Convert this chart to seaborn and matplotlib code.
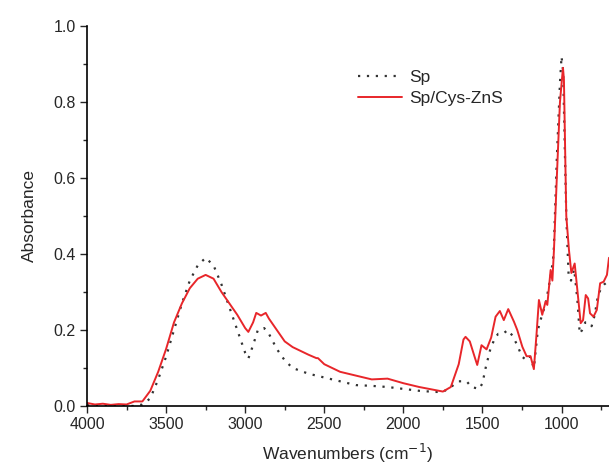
import numpy as np
import pandas as pd
import matplotlib
matplotlib.use("Agg")
import matplotlib.pyplot as plt
from matplotlib.ticker import MultipleLocator
import seaborn as sns

# Sp (plain) spectrum
sp_wn = [4000, 3900, 3800, 3700, 3650, 3600, 3550, 3500, 3450, 3400, 3350, 3300,
         3250, 3200, 3150, 3100, 3050, 3000, 2980, 2950, 2920, 2880, 2850, 2800,
         2750, 2700, 2600, 2500, 2400, 2300, 2200, 2100, 2000, 1900, 1800, 1750,
         1700, 1650, 1600, 1570, 1520, 1500, 1480, 1450, 1420, 1400, 1370, 1340,
         1310, 1280, 1250, 1220, 1200, 1175, 1150, 1130, 1100, 1065, 1050, 1030,
         1010, 1000, 990, 970, 955, 940, 920, 900, 885, 870, 850, 830, 810, 790,
         770, 750, 730, 700]
sp_abs = [0.002, 0.0, 0.001, 0.0, 0.004, 0.02, 0.07, 0.13, 0.2, 0.27, 0.33, 0.37,
          0.39, 0.37, 0.32, 0.26, 0.2, 0.14, 0.125, 0.16, 0.2, 0.205, 0.19, 0.15,
          0.12, 0.1, 0.085, 0.075, 0.065, 0.055, 0.053, 0.05, 0.045, 0.04, 0.037, 0.037,
          0.05, 0.065, 0.065, 0.05, 0.045, 0.06, 0.1, 0.15, 0.18, 0.19, 0.19, 0.2,
          0.185, 0.16, 0.13, 0.12, 0.13, 0.1, 0.2, 0.23, 0.27, 0.35, 0.4, 0.65,
          0.85, 0.92, 0.88, 0.5, 0.34, 0.33, 0.36, 0.28, 0.19, 0.2, 0.22, 0.22, 0.21, 0.24,
          0.29, 0.31, 0.32, 0.33]

# Sp/Cys-ZnS spectrum
zn_wn = [4000, 3950, 3900, 3850, 3800, 3750, 3700, 3650, 3600, 3550, 3500, 3450,
         3400, 3350, 3300, 3250, 3200, 3150, 3100, 3050, 3000, 2980, 2950, 2930,
         2900, 2870, 2850, 2800, 2750, 2700, 2600, 2550, 2540, 2500, 2400, 2300,
         2200, 2100, 2000, 1900, 1800, 1750, 1700, 1650, 1620, 1607, 1580, 1550,
         1533, 1506, 1474, 1445, 1417, 1390, 1365, 1337, 1301, 1280, 1248, 1221,
         1196, 1175, 1158, 1143, 1122, 1101, 1090, 1069, 1058, 1048, 1030, 1010,
         991, 985, 970, 953, 938, 917, 900, 879, 864, 847, 832, 820, 798, 777,
         756, 734, 713, 700]
zn_abs = [0.008, 0.004, 0.006, 0.003, 0.005, 0.004, 0.012, 0.012, 0.04, 0.09, 0.15, 0.22,
          0.27, 0.31, 0.335, 0.345, 0.335, 0.3, 0.27, 0.24, 0.205, 0.195, 0.22, 0.245,
          0.238, 0.245, 0.23, 0.2, 0.17, 0.155, 0.135, 0.126, 0.126, 0.11, 0.09, 0.08,
          0.07, 0.072, 0.06, 0.05, 0.042, 0.038, 0.05, 0.11, 0.175, 0.182, 0.17, 0.13,
          0.108, 0.16, 0.149, 0.18, 0.235, 0.25, 0.226, 0.255, 0.222, 0.2, 0.156, 0.131,
          0.131, 0.097, 0.19, 0.279, 0.24, 0.275, 0.266, 0.358, 0.33, 0.41, 0.6, 0.8,
          0.89, 0.86, 0.5, 0.41, 0.35, 0.375, 0.305, 0.218, 0.226, 0.292, 0.283, 0.244, 0.235, 0.253,
          0.323, 0.327, 0.345, 0.39]

df_sp = pd.DataFrame({"wn": sp_wn, "abs": sp_abs})
df_zn = pd.DataFrame({"wn": zn_wn, "abs": zn_abs})

sns.set_style("ticks")
plt.rcParams["font.family"] = ["Liberation Sans", "DejaVu Sans"]

fig = plt.figure(figsize=(6.09, 4.70), dpi=100)
ax = fig.add_axes([87 / 609, 64 / 470, 1 - 87 / 609, 380 / 470])

sns.lineplot(data=df_sp, x="wn", y="abs", ax=ax, color="#333333",
             linestyle=(0, (1, 3)), linewidth=1.6, label="Sp", sort=False)
sns.lineplot(data=df_zn, x="wn", y="abs", ax=ax, color="#e8262a",
             linewidth=1.4, label="Sp/Cys-ZnS", sort=False)

ax.set_xlim(4000, 700)
ax.set_ylim(0, 1.0)
ax.xaxis.set_major_locator(MultipleLocator(500))
ax.xaxis.set_minor_locator(MultipleLocator(250))
ax.yaxis.set_major_locator(MultipleLocator(0.2))
ax.yaxis.set_minor_locator(MultipleLocator(0.1))
ax.yaxis.set_major_formatter(matplotlib.ticker.FormatStrFormatter("%.1f"))
ax.tick_params(which="major", direction="out", length=5, width=1, labelsize=11.5, pad=3)
ax.tick_params(which="minor", direction="out", length=3, width=1)

for s in ["top", "right"]:
    ax.spines[s].set_visible(False)
for s in ["left", "bottom"]:
    ax.spines[s].set_linewidth(1.2)
    ax.spines[s].set_color("black")

ax.set_xlabel("Wavenumbers (cm$^{-1}$)", fontsize=12.5, labelpad=7)
ax.set_ylabel("Absorbance", fontsize=12.5, labelpad=12)

ax.legend(loc="upper left", bbox_to_anchor=(0.49, 0.925), frameon=False,
          fontsize=12.5, handlelength=2.5, handletextpad=0.4, labelspacing=0.3)

fig.savefig("out.png", dpi=100)
